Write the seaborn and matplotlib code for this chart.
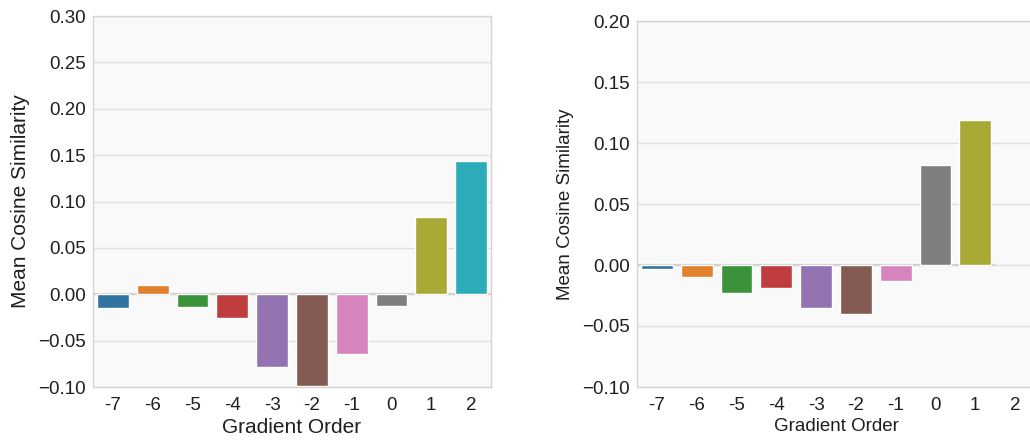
import pandas as pd
import seaborn as sns
import matplotlib.pyplot as plt


# ----------------------------
# Data
# ----------------------------

orders = [-7, -6, -5, -4, -3, -2, -1, 0, 1, 2]

left_orders = [-7, -6, -5, -4, -3, -2, -1, 0, 1, 2]
left_values = [-0.015, 0.010, -0.014, -0.026, -0.078, -0.099, -0.064, -0.013, 0.083, 0.144]

right_orders = [-7, -6, -5, -4, -3, -2, -1, 0, 1]
right_values = [-0.0035, -0.010, -0.023, -0.019, -0.035, -0.040, -0.013, 0.082, 0.119]

left_yticks = [-0.10, -0.05, 0.00, 0.05, 0.10, 0.15, 0.20, 0.25, 0.30]
right_yticks = [-0.10, -0.05, 0.00, 0.05, 0.10, 0.15, 0.20]


# ----------------------------
# Style
# ----------------------------

sns.set_theme(style="whitegrid", rc={
    "axes.facecolor": "#f9f9f9",
    "axes.edgecolor": "#d4d4d4",
    "grid.color": "#dedede",
    "axes.linewidth": 1.0,
})
plt.rcParams["font.family"] = ["Liberation Sans", "DejaVu Sans"]
plt.rcParams["text.color"] = "#1f1f1f"
plt.rcParams["axes.labelcolor"] = "#1f1f1f"
plt.rcParams["xtick.color"] = "#1f1f1f"
plt.rcParams["ytick.color"] = "#1f1f1f"

fig = plt.figure(figsize=(10.3, 4.4), dpi=100)
W, H = 1030, 440
ax1 = fig.add_axes([93 / W, 1 - 387 / H, 398 / W, 371 / H])
ax2 = fig.add_axes([637 / W, 1 - 387 / H, 398 / W, 366 / H])

labels = [str(o) for o in orders]
palette = sns.color_palette("tab10", len(orders))


def draw(ax, xs, ys, yticks, tick_fs, label_fs):
    df = pd.DataFrame({"order": [str(x) for x in xs], "value": ys})
    ax.hlines(0, -0.5, len(xs) - 0.5, color="#d2d2d2", linewidth=1.6, zorder=1)
    sns.barplot(data=df, x="order", y="value", hue="order", order=labels,
                hue_order=labels, palette=palette, legend=False,
                edgecolor="white", linewidth=1.0, ax=ax, zorder=2)
    ax.set_xlim(-0.5, len(orders) - 0.5)
    ax.set_ylim(yticks[0], yticks[-1])
    ax.set_yticks(yticks)
    ax.set_yticklabels([f"{t:.2f}".replace("-", "\u2212") for t in yticks])
    ax.tick_params(axis="x", labelsize=tick_fs, length=0, pad=7)
    ax.tick_params(axis="y", labelsize=tick_fs, length=0, pad=5)
    ax.set_xlabel("Gradient Order", fontsize=label_fs, labelpad=3)
    ax.set_ylabel("Mean Cosine Similarity", fontsize=label_fs, labelpad=6)
    ax.grid(axis="x", visible=False)


draw(ax1, left_orders, left_values, left_yticks, 13.5, 15)
draw(ax2, right_orders, right_values, right_yticks, 13.5, 13.5)

plt.savefig("out.png", dpi=100)
plt.close()
